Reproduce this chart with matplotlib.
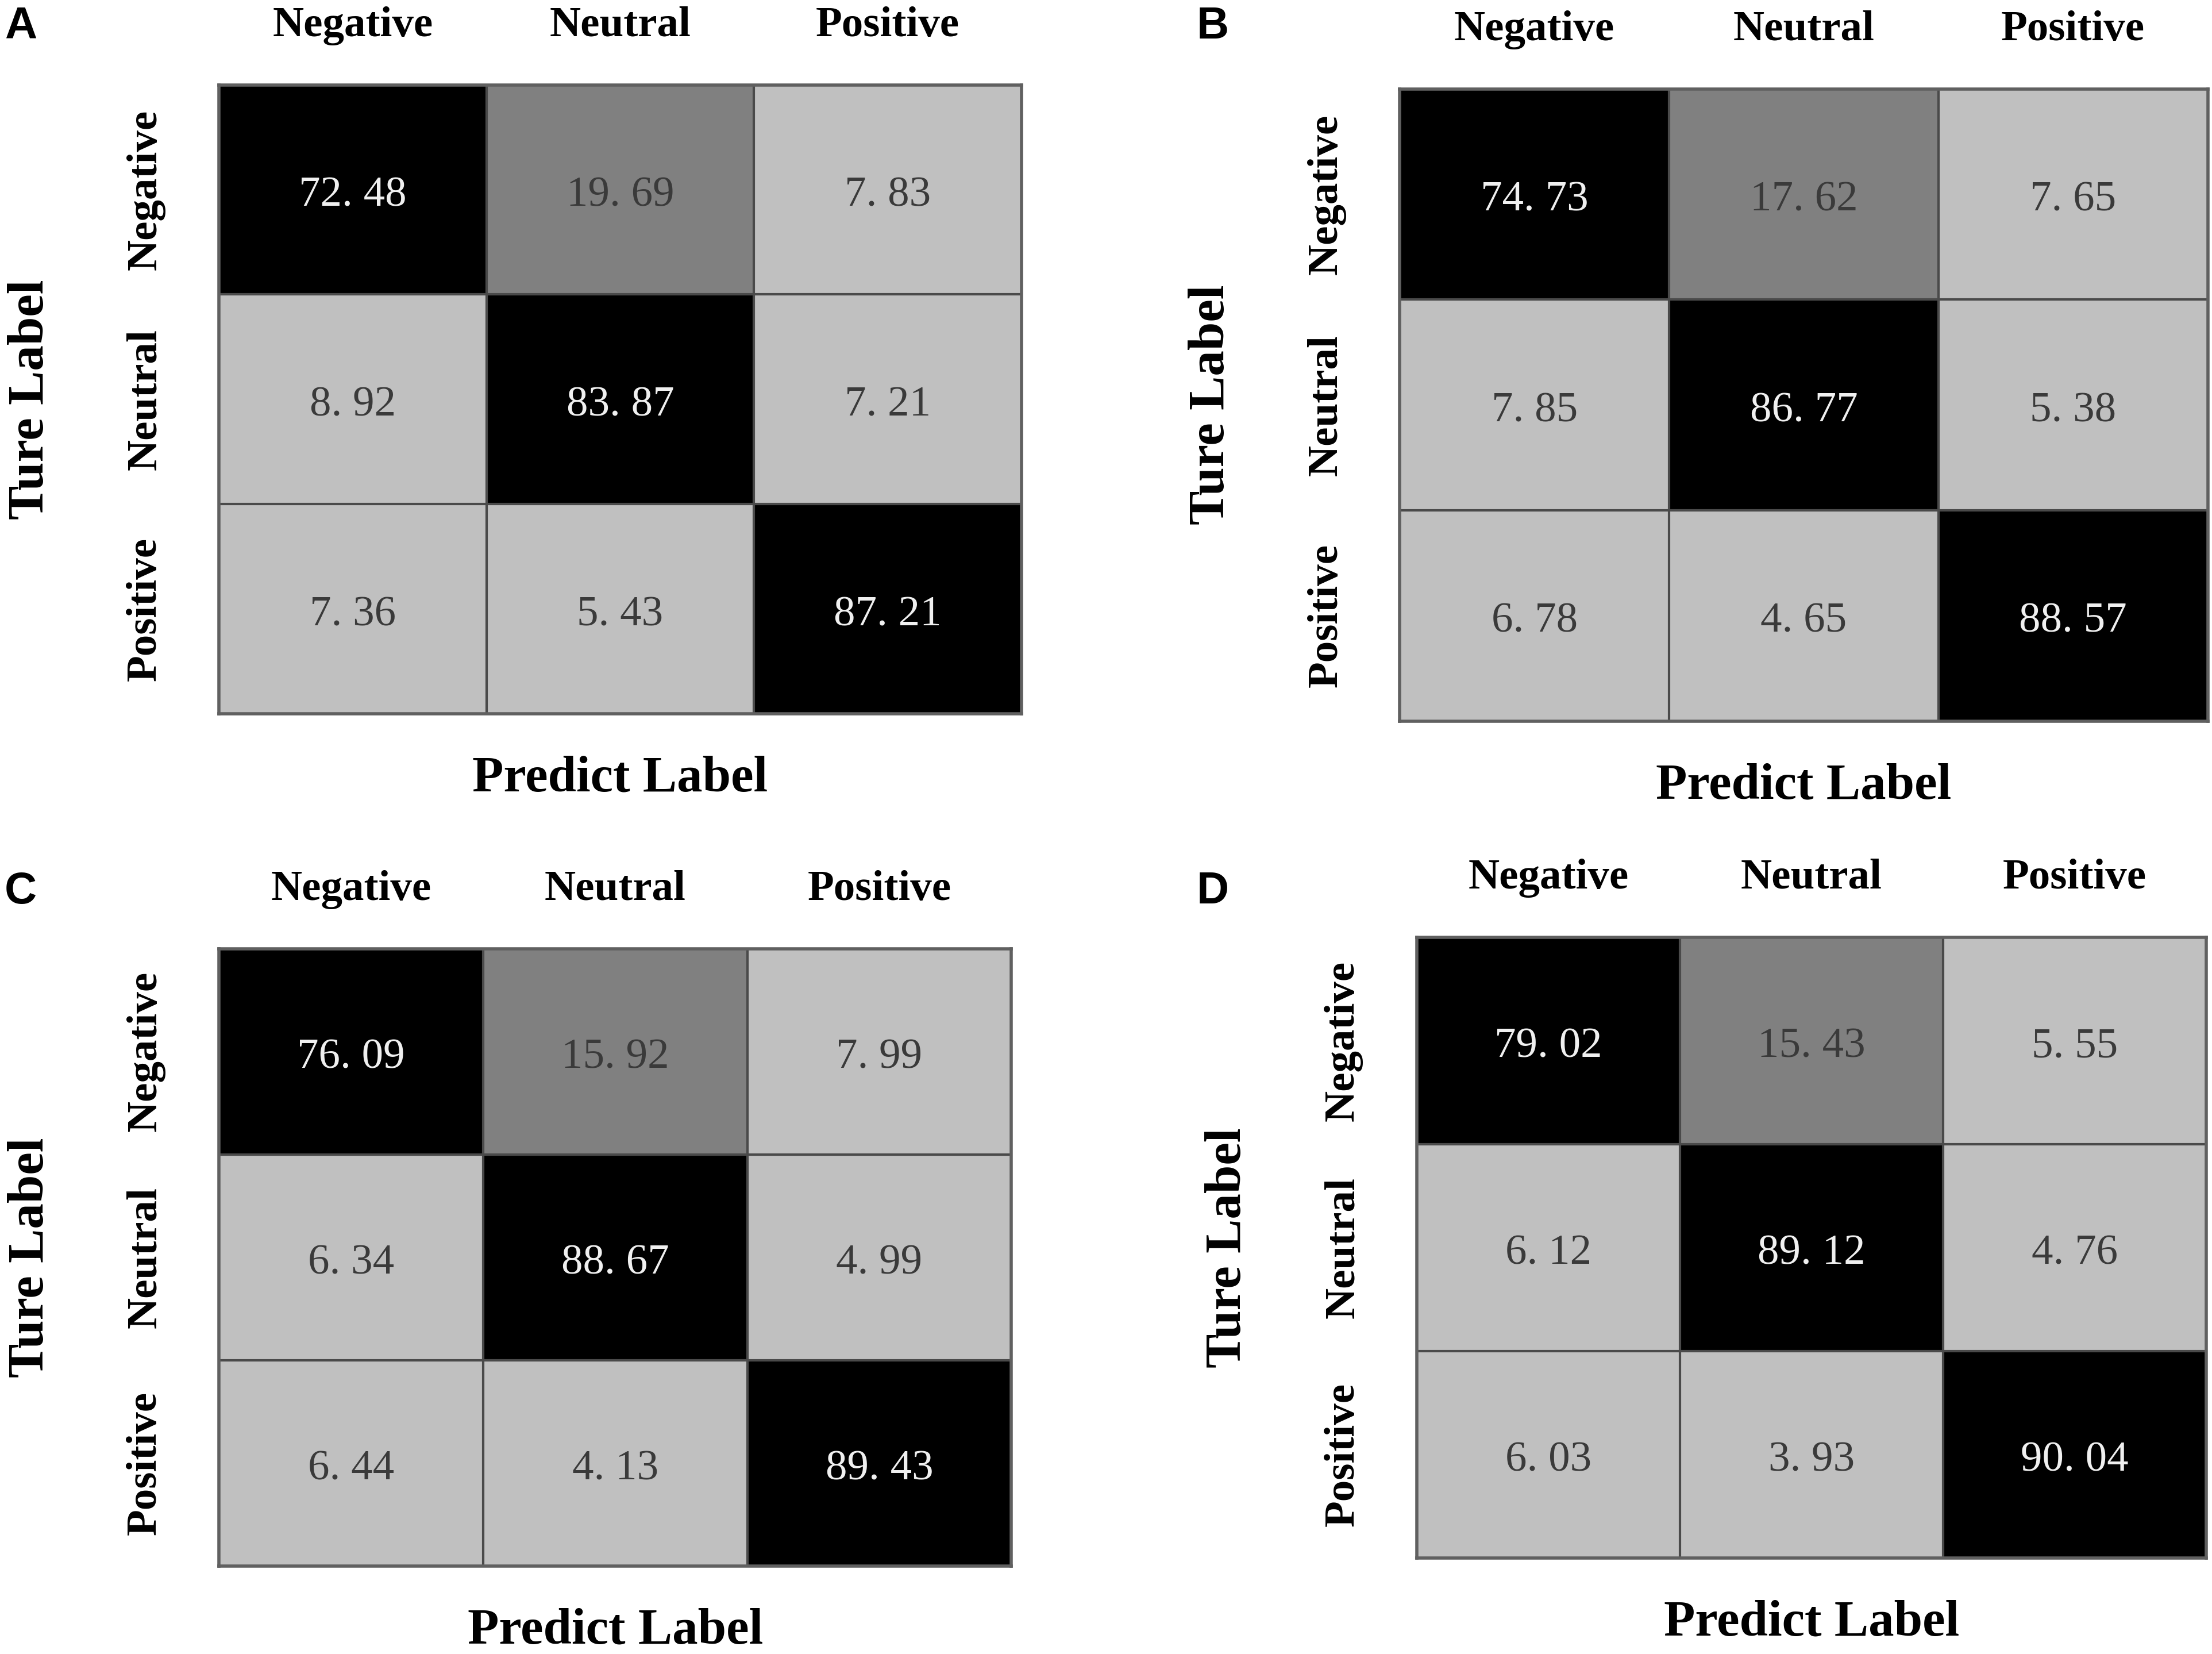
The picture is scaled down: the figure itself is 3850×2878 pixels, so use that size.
import matplotlib
matplotlib.use("Agg")
import matplotlib.pyplot as plt
from matplotlib.colors import ListedColormap, BoundaryNorm
import numpy as np

classes = ["Negative", "Neutral", "Positive"]
panel_letters = ["A", "B", "C", "D"]

cm_a = [[72.48, 19.69, 7.83], [8.92, 83.87, 7.21], [7.36, 5.43, 87.21]]
cm_b = [[74.73, 17.62, 7.65], [7.85, 86.77, 5.38], [6.78, 4.65, 88.57]]
cm_c = [[76.09, 15.92, 7.99], [6.34, 88.67, 4.99], [6.44, 4.13, 89.43]]
cm_d = [[79.02, 15.43, 5.55], [6.12, 89.12, 4.76], [6.03, 3.93, 90.04]]

# axes boxes in figure fractions [left, bottom, width, height]
boxes = [
    [0.0990, 0.5684, 0.3627, 0.3803],
    [0.6328, 0.5641, 0.3653, 0.3821],
    [0.0990, 0.0530, 0.3582, 0.3735],
    [0.6405, 0.0581, 0.3569, 0.3752],
]
letter_pos = [(0.002, 0.984), (0.541, 0.984), (0.002, 0.461), (0.541, 0.461)]

cmap = ListedColormap(["#c0c0c0", "#808080", "#000000"])
norm = BoundaryNorm([0, 10, 50, 100], cmap.N)

fig = plt.figure(figsize=(38.5, 28.78), dpi=100)
serif = "Liberation Serif"

for cm, box, letter, lp in zip([cm_a, cm_b, cm_c, cm_d], boxes, panel_letters, letter_pos):
    ax = fig.add_axes(box)
    m = np.array(cm)
    ax.imshow(m, cmap=cmap, norm=norm, aspect="auto")
    for i in range(3):
        for j in range(3):
            v = m[i, j]
            col = "#f0f0f0" if v > 50 else "#3a3a3a"
            ax.text(j, i + 0.03, f"{v:.2f}".replace(".", ". "), ha="center", va="center",
                    color=col, fontsize=54, family=serif)
    for k in (0.5, 1.5):
        ax.axhline(k, color="#4a4a4a", lw=3)
        ax.axvline(k, color="#4a4a4a", lw=3)
    for s in ax.spines.values():
        s.set_color("#606060")
        s.set_linewidth(4)
    ax.set_xticks([])
    ax.set_yticks([])
    for j, name in enumerate(classes):
        ax.annotate(name, xy=((j + 0.5) / 3, 1), xycoords="axes fraction",
                    xytext=(0, 103), textcoords="offset pixels",
                    ha="center", va="center", fontsize=54, fontweight="bold", family=serif)
        ax.annotate(name, xy=(0, 1 - (j + 0.5) / 3), xycoords="axes fraction",
                    xytext=(-128, 0), textcoords="offset pixels", rotation=90,
                    ha="center", va="center", fontsize=54, fontweight="bold", family=serif)
    ax.annotate("Predict Label", xy=(0.5, 0), xycoords="axes fraction",
                xytext=(0, -113), textcoords="offset pixels",
                ha="center", va="center", fontsize=64, fontweight="bold", family=serif)
    ax.annotate("Ture Label", xy=(0, 0.5), xycoords="axes fraction",
                xytext=(-328, 0), textcoords="offset pixels", rotation=90,
                ha="center", va="center", fontsize=64, fontweight="bold", family=serif)
    fig.text(lp[0], lp[1], letter, ha="left", va="center", fontsize=56,
             fontweight="bold", family="Liberation Sans")

fig.savefig("out.png", dpi=100)
